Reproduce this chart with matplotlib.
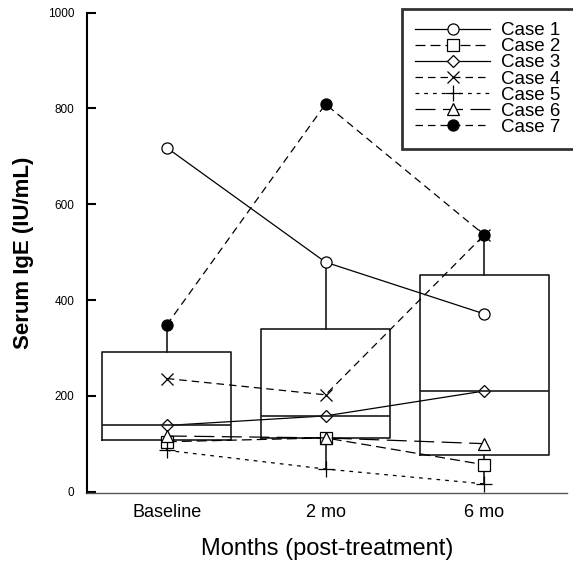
import matplotlib.pyplot as plt

plt.rcParams['font.family'] = ['Liberation Sans', 'DejaVu Sans']

months = ["Baseline", "2 mo", "6 mo"]
pos = [1, 2, 3]

# serum IgE per case at each visit
case1 = [718, 479, 371]
case2 = [104, 112, 56]
case3 = [138, 158, 210]
case4 = [236, 202, 536]
case5 = [86, 47, 16]
case6 = [116, 112, 100]
case7 = [348, 809, 536]

# box plot summary
q1 = [107, 112, 77]
med = [138, 157, 210]
q3 = [291, 339, 452]
whis_lo = [86, 47, 16]
whis_hi = [348, 479, 536]

fig = plt.figure(figsize=(5.73, 5.66), dpi=100)
ax = fig.add_axes([0.152, 0.129, 0.838, 0.8486])

stats = []
for i in range(3):
    stats.append({"med": med[i], "q1": q1[i], "q3": q3[i],
                  "whislo": whis_lo[i], "whishi": whis_hi[i], "fliers": []})

ax.bxp(stats, positions=pos, widths=0.81, showcaps=False, showfliers=False,
       boxprops=dict(color="#1a1a1a", lw=1.2),
       whiskerprops=dict(color="#1a1a1a", lw=1.2),
       medianprops=dict(color="#1a1a1a", lw=1.2))

lk = dict(color="black", lw=0.9, mec="black", mew=0.9)
ax.plot(pos, case1, marker="o", ms=8, mfc="white", ls="-", label="Case 1", **lk)
ax.plot(pos, case2, marker="s", ms=8, mfc="white", ls=(0, (8, 4)), label="Case 2", **lk)
ax.plot(pos, case3, marker="D", ms=6, mfc="white", ls="-", label="Case 3", **lk)
ax.plot(pos, case4, marker="x", ms=9, ls=(0, (6, 4)), label="Case 4", **lk)
ax.plot(pos, case5, marker="+", ms=11, ls=(0, (3, 4)), label="Case 5", **lk)
ax.plot(pos, case6, marker="^", ms=9, mfc="white", ls=(0, (16, 6)), label="Case 6", **lk)
ax.plot(pos, case7, marker="o", ms=8, mfc="black", ls=(0, (6, 4)), label="Case 7", **lk)

ax.set_xlim(0.498, 3.523)
ax.set_ylim(-3, 1000)
ax.set_yticks([0, 200, 400, 600, 800, 1000])
ax.set_xticks(pos)
ax.set_xticklabels(months, fontsize=13)

for s in ["top", "right"]:
    ax.spines[s].set_visible(False)
ax.spines["left"].set_linewidth(1.5)
ax.spines["bottom"].set_linewidth(1.0)
ax.spines["bottom"].set_color("#555555")

ax.tick_params(axis="y", direction="in", length=6.5, width=1.5, labelsize=8.5, pad=9)
ax.tick_params(axis="x", length=0, pad=8)

ax.set_xlabel("Months (post-treatment)", fontsize=17, labelpad=12)
ax.set_ylabel("Serum IgE (IU/mL)", fontsize=16, fontweight="bold", labelpad=10)

leg = fig.legend(loc="upper left", bbox_to_anchor=(0.7016, 0.984), fontsize=13.5,
                 handlelength=4.0, handletextpad=0.6, labelspacing=-0.055,
                 borderpad=0.7, borderaxespad=0, fancybox=False, frameon=True)
leg.get_frame().set_edgecolor("black")
leg.get_frame().set_linewidth(2)

fig.savefig("out.png", dpi=100)
